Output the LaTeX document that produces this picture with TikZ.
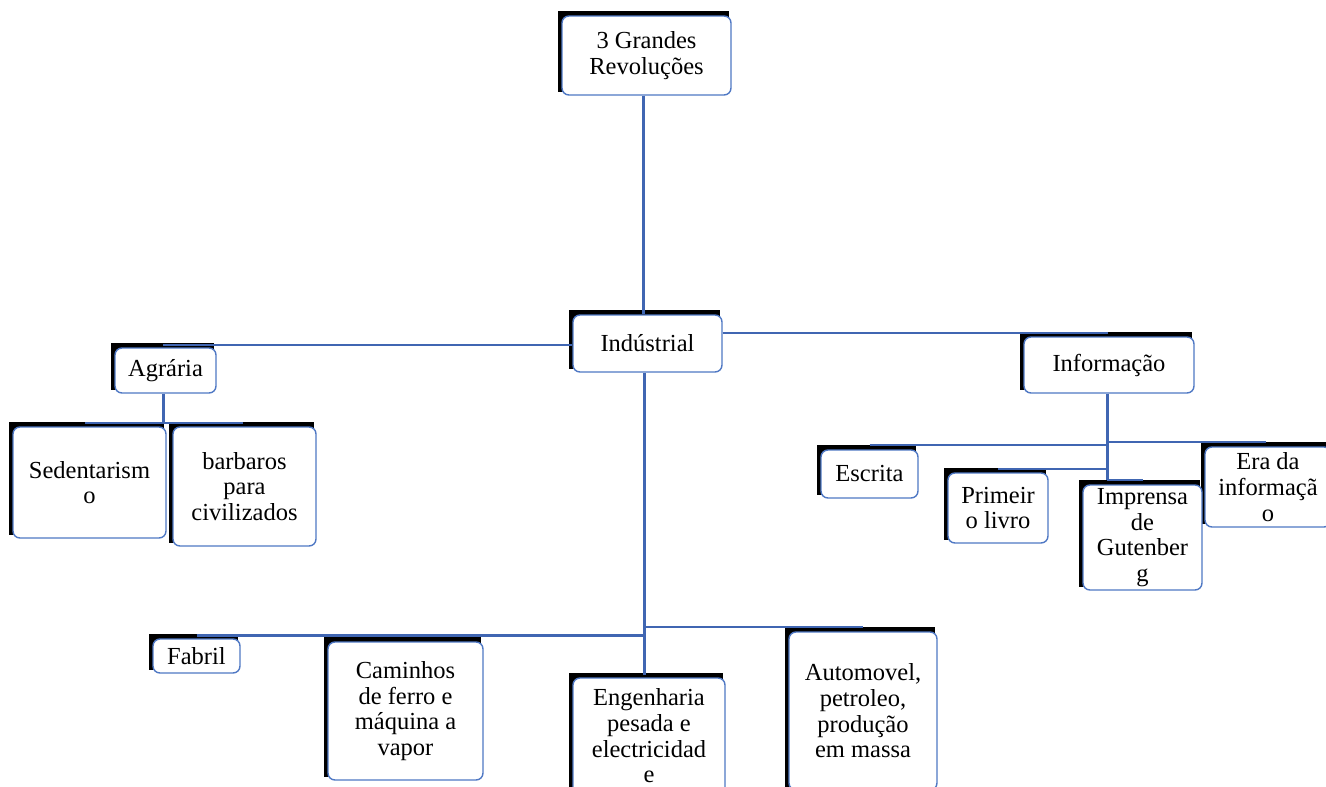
\documentclass[tikz,border=0pt]{standalone}
\usepackage{fontspec}
\setmainfont{Liberation Serif}
\usetikzlibrary{calc,backgrounds}
\definecolor{boxblue}{RGB}{79,120,196}
\definecolor{linkblue}{RGB}{64,102,178}
\begin{document}
\begin{tikzpicture}[x=1pt,y=-1pt,
  box/.style={draw=boxblue, fill=white, line width=1.4pt, rounded corners=7pt,
    inner sep=0pt, align=center, font=\fontsize{24.5}{25.7}\selectfont},
  boxsize/.style 2 args={minimum width=#1, minimum height=#2},
  link/.style={draw=linkblue, line width=3pt},
  hlink/.style={draw=linkblue, line width=2.6pt}]
\useasboundingbox (0,0) rectangle (1326,787);
\clip (0,0) rectangle (1326,787);

% boxes
\node[box, boxsize={169}{79}]  (top) at (646.5,55.5) {3 Grandes\\Revoluções};
\node[box, boxsize={149}{57}]  (ind) at (647.5,343.5) {Indústrial};
\node[box, boxsize={101}{45}]  (agr) at (165.5,370.5) {Agrária};
\node[box, boxsize={153}{111}] (sed) at (89.5,482.5) {Sedentarism\\o};
\node[box, boxsize={143}{119}] (bar) at (244.5,486.5) {barbaros\\para\\civilizados};
\node[box, boxsize={170}{56}]  (inf) at (1109,365) {Informação};
\node[box, boxsize={97}{48}]   (esc) at (869.5,474) {Escrita};
\node[box, boxsize={100}{70}]  (pri) at (998,508) {Primeir\\o livro};
\node[box, boxsize={119}{105}] (imp) at (1142.5,537.5) {Imprensa\\de\\Gutenber\\g};
\node[box, boxsize={126}{80}]  (era) at (1268,487) {Era da\\informaçã\\o};
\node[box, boxsize={87}{34}]   (fab) at (196.5,656) {Fabril};
\node[box, boxsize={155}{138}] (cam) at (405.5,711) {Caminhos\\de ferro e\\máquina a\\vapor};
\node[box, boxsize={152}{116}] (eng) at (649,736) {Engenharia\\pesada e\\electricidad\\e};
\node[box, boxsize={148}{158}] (aut) at (863,711) {Automovel,\\petroleo,\\produção\\em massa};

% page background and black box shadows
\begin{scope}[on background layer]
  \fill[white] (0,0) rectangle (1326,787);
  \foreach \n in {top,ind,agr,sed,bar,inf,esc,pri,imp,era,fab,cam,eng,aut}
    \fill[black] ($(\n.north west)+(-3,-4)$) rectangle ($(\n.south east)+(-3,-4)$);
\end{scope}

% junction points of the connectors
\coordinate (trunk) at (643.5,0);
\coordinate (agrhook) at (163,345);
\coordinate (infhook) at (1108,333);
\coordinate (agrbus) at (163,423);
\coordinate (infstem) at (1107,480);
\coordinate (indstem) at (644,675);

% top to Industrial
\draw[link] (top.south -| trunk) -- (ind.north -| trunk);
% Industrial to Agraria and Informacao
\draw[hlink] (ind.west |- agrhook) -- (agrhook);
\draw[hlink] (ind.east |- infhook) -- (infhook);

% Agraria branch
\draw[link] (agr.south -| agrbus) -- (agrbus);
\draw[hlink] (sed.north west |- agrbus) ++(73,0) -- (agrbus) -- ++(80,0);

% Informacao branch
\draw[link] (inf.south -| infstem) -- (infstem);
\draw[hlink] (esc.north |- 0,445) -- (infstem |- 0,445);
\draw[hlink] (infstem |- 0,442) -- (1266,442);
\draw[hlink] (pri.north |- 0,469) -- (infstem |- 0,469);
\draw[hlink] (infstem) -- (imp.north |- infstem);

% Industrial branch
\draw[link] (ind.south -| indstem) -- (indstem);
\draw[link] (fab.north |- 0,635.5) -- (indstem |- 0,635.5);
\draw[hlink] (indstem |- 0,627) -- (aut.north |- 0,627);
\end{tikzpicture}
\end{document}
